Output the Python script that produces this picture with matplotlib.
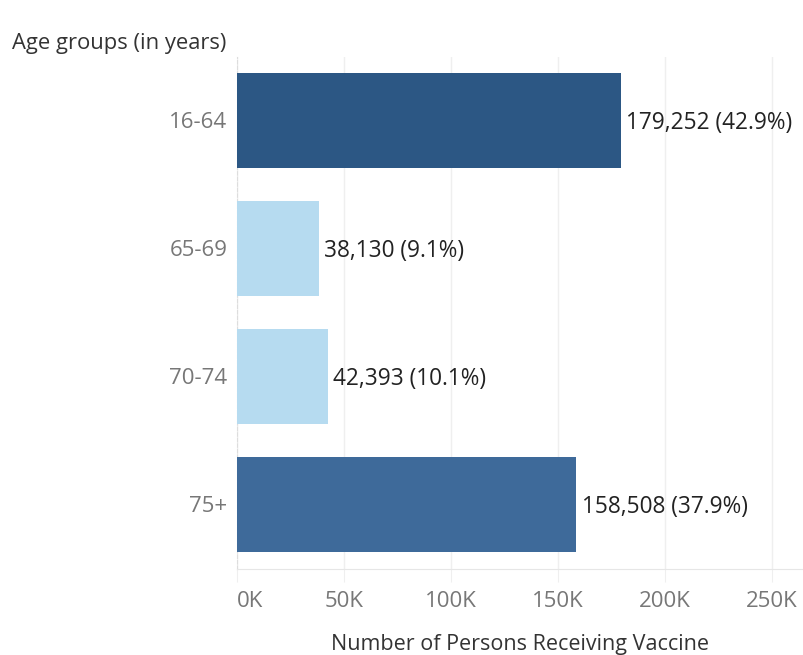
import matplotlib.pyplot as plt
from matplotlib.ticker import FuncFormatter

# Vaccine recipients by age group
age_groups = ["16-64", "65-69", "70-74", "75+"]
persons = [179252, 38130, 42393, 158508]
shares = [42.9, 9.1, 10.1, 37.9]
bar_colors = ["#2c5784", "#b6dbf0", "#b6dbf0", "#3e6a9a"]
x_ticks = [0, 50000, 100000, 150000, 200000, 250000]

plt.rcParams["font.family"] = ["Open Sans", "DejaVu Sans"]

fig = plt.figure(figsize=(8.04, 6.55), dpi=100)
ax = fig.add_axes([237 / 804, 86.5 / 655, 567 / 804, 512 / 655])

ypos = range(len(age_groups))
ax.barh(ypos, persons, height=0.74, color=bar_colors, zorder=3)

for y, val, pct in zip(ypos, persons, shares):
    ax.annotate(f"{val:,} ({pct}%)", xy=(val, y), xytext=(4, -2),
                textcoords="offset points", va="center", ha="left",
                fontsize=16.3, color="#222222", zorder=4)

ax.set_ylim(len(age_groups) - 0.5, -0.5)
ax.set_xlim(0, 265000)
ax.set_yticks(list(ypos))
ax.set_yticklabels(age_groups)
ax.set_xticks(x_ticks)
ax.xaxis.set_major_formatter(FuncFormatter(lambda v, p: f"{int(v / 1000)}K"))

ax.grid(axis="x", color="#efefef", linewidth=1, zorder=0)
for side in ["top", "right"]:
    ax.spines[side].set_visible(False)
ax.spines["left"].set_color("#dddddd")
ax.spines["left"].set_linestyle((0, (3, 2)))
ax.spines["bottom"].set_color("#e6e6e6")

ax.tick_params(axis="y", length=0, pad=7, labelsize=16, labelcolor="#777777")
ax.tick_params(axis="x", length=9, color="#efefef", pad=7,
               labelsize=16, labelcolor="#777777")
ax.get_xticklabels()[0].set_horizontalalignment("left")

ax.set_xlabel("Number of Persons Receiving Vaccine", fontsize=15.5,
              color="#333333", labelpad=16)
fig.text(12 / 804, 1 - 44 / 655, "Age groups (in years)", fontsize=15.8,
         color="#333333", ha="left", va="center")

fig.savefig("out.png", dpi=100)
